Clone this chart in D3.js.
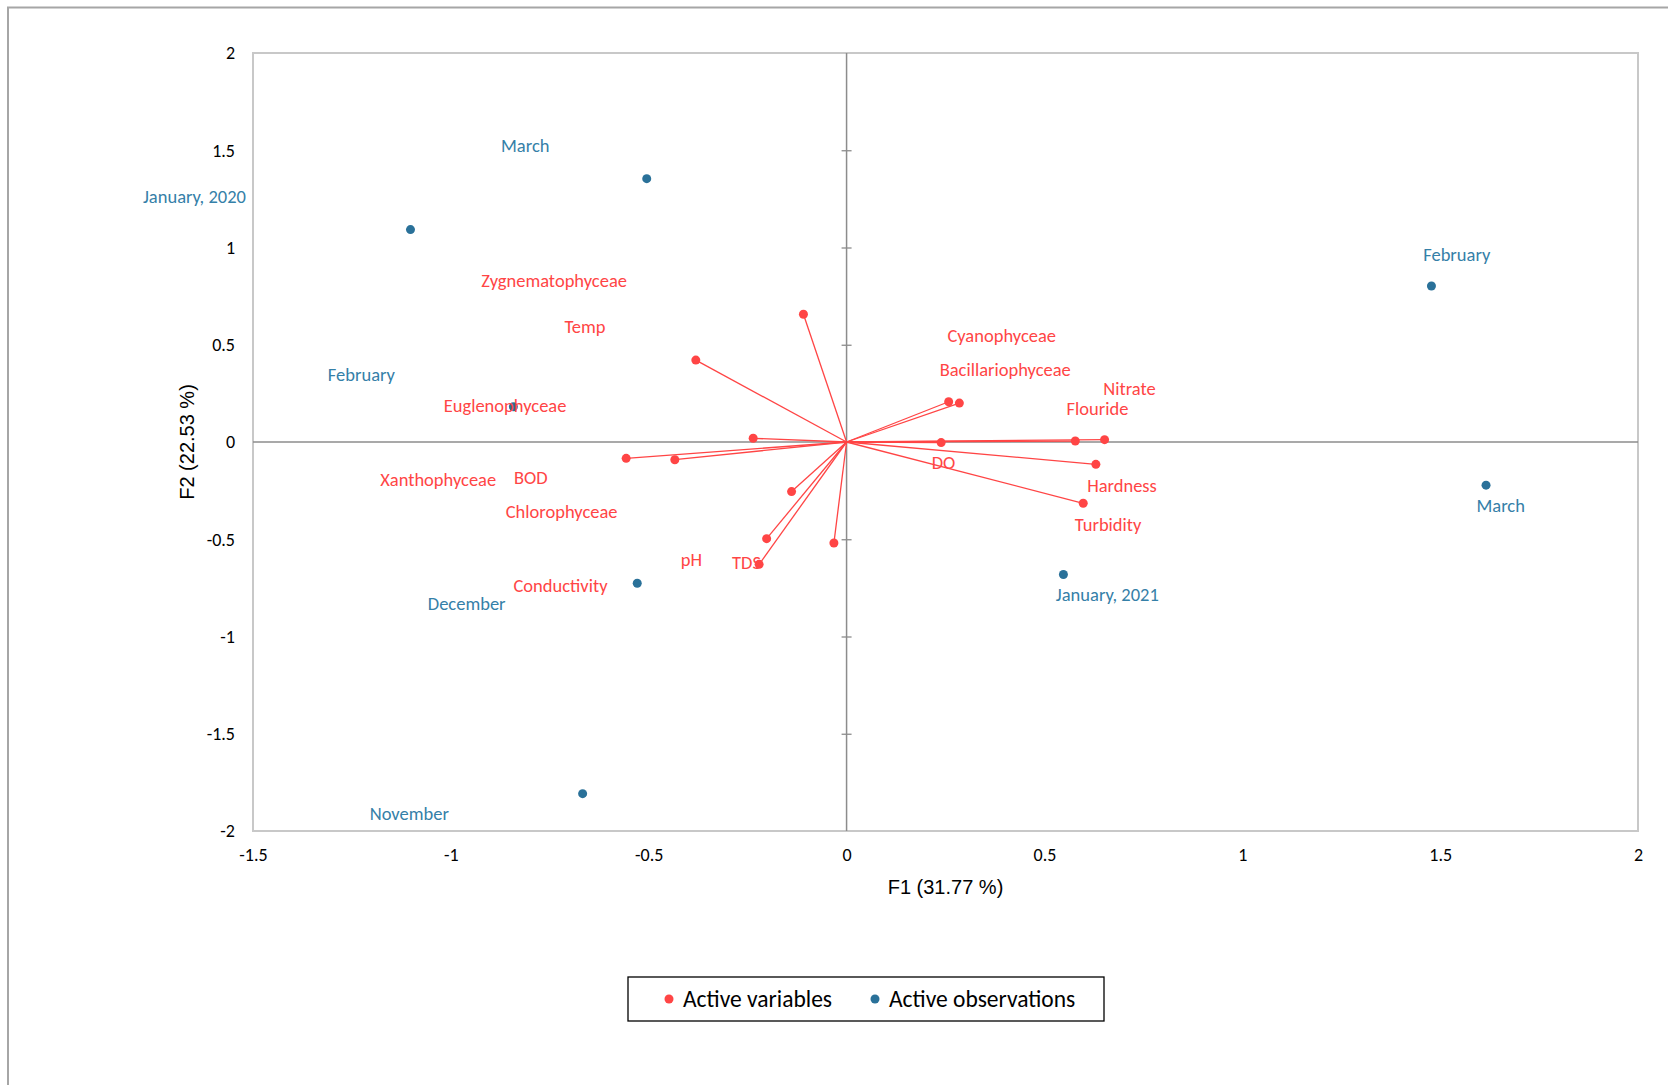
<!DOCTYPE html>
<html>
<head>
<meta charset="utf-8">
<script src="https://cdn.jsdelivr.net/npm/d3@7"></script>
<style>
  body { margin: 0; background: #fff; }
  svg { display: block; }
</style>
</head>
<body>
<div id="chart"></div>
<script>
// active variables (F1, F2 loadings)
var varNames = ["Zygnematophyceae", "Temp", "Euglenophyceae", "Xanthophyceae", "BOD",
  "Chlorophyceae", "pH", "TDS", "Conductivity", "Cyanophyceae", "Bacillariophyceae",
  "DO", "Flouride", "Nitrate", "Hardness", "Turbidity"];
var varF1 = [-0.109, -0.381, -0.236, -0.557, -0.434, -0.139, -0.202, -0.221, -0.032,
  0.258, 0.285, 0.239, 0.578, 0.652, 0.630, 0.598];
var varF2 = [0.657, 0.421, 0.019, -0.084, -0.091, -0.255, -0.497, -0.629, -0.519,
  0.207, 0.200, -0.003, 0.005, 0.012, -0.115, -0.315];
// where the variable labels sit (chart units)
var varLabelF1 = [-0.739, -0.661, -0.863, -1.032, -0.798, -0.720, -0.392, -0.253, -0.723,
  0.392, 0.401, 0.245, 0.634, 0.715, 0.696, 0.661];
var varLabelF2 = [0.829, 0.594, 0.189, -0.194, -0.183, -0.358, -0.605, -0.621, -0.736,
  0.550, 0.375, -0.107, 0.172, 0.276, -0.222, -0.424];

// active observations
var obsNames = ["January, 2020", "March", "February", "December", "November",
  "February", "March", "January, 2021"];
var obsF1 = [-1.102, -0.505, -0.842, -0.529, -0.667, 1.478, 1.616, 0.548];
var obsF2 = [1.092, 1.354, 0.181, -0.726, -1.808, 0.802, -0.222, -0.681];
var obsLabelF1 = [-1.648, -0.812, -1.226, -0.960, -1.105, 1.542, 1.653, 0.659];
var obsLabelF2 = [1.261, 1.524, 0.347, -0.829, -1.912, 0.965, -0.326, -0.785];

var xTicks = [-1.5, -1, -0.5, 0, 0.5, 1, 1.5, 2];
var yTicks = [-2, -1.5, -1, -0.5, 0, 0.5, 1, 1.5, 2];
var legendItems = ["Active variables", "Active observations"];

var red = "#ff4545", blue = "#2a7199", blueText = "#3580a8";
var font = "Carlito, Calibri, Lato, sans-serif";

var svgWidth = 1668, svgHeight = 1085;
var margin = { top: 53, right: 30, bottom: 254, left: 253 };
var width = svgWidth - margin.left - margin.right;
var height = svgHeight - margin.top - margin.bottom;

var svg = d3.select("#chart").append("svg")
  .attr("width", svgWidth)
  .attr("height", svgHeight);

// outer frame (only top and left visible)
svg.append("path")
  .attr("d", "M8,1085V7.5H1668")
  .attr("fill", "none")
  .attr("stroke", "#a6a6a6")
  .attr("stroke-width", 2);

var g = svg.append("g")
  .attr("transform", "translate(" + margin.left + "," + margin.top + ")");

var x = d3.scaleLinear().domain([-1.5, 2]).range([0, width]);
var y = d3.scaleLinear().domain([-2, 2]).range([height, 0]);

g.append("rect")
  .attr("width", width)
  .attr("height", height)
  .attr("fill", "none")
  .attr("stroke", "#c8c8c8")
  .attr("stroke-width", 2);

// tick labels on left and bottom (plain hyphen minus like the original)
var plain = function(d) { return String(d); };
var yAxis = g.append("g")
  .call(d3.axisLeft(y).tickValues(yTicks).tickSize(0).tickPadding(18).tickFormat(plain));
var xAxis = g.append("g")
  .attr("transform", "translate(0," + height + ")")
  .call(d3.axisBottom(x).tickValues(xTicks).tickSize(0).tickPadding(17).tickFormat(plain));
[xAxis, yAxis].forEach(function(a) {
  a.select(".domain").remove();
  a.selectAll("text").attr("font-family", font).attr("font-size", 18).attr("fill", "#000");
});

// centre axes; only the vertical one carries crossing ticks
function centreAxis(axis, transform) {
  var a = g.append("g").attr("transform", transform)
    .call(axis.tickSize(5).tickFormat(""));
  a.select(".domain").remove();
  a.selectAll("line").attr("stroke", "#8c8c8c").attr("stroke-width", 1.3);
}
centreAxis(d3.axisLeft(y).tickValues(yTicks.slice(1, -1)), "translate(" + x(0) + ",0)");
centreAxis(d3.axisRight(y).tickValues(yTicks.slice(1, -1)), "translate(" + x(0) + ",0)");
g.append("line")
  .attr("x1", 0).attr("x2", width).attr("y1", y(0)).attr("y2", y(0))
  .attr("stroke", "#8c8c8c").attr("stroke-width", 1.5);
g.append("line")
  .attr("x1", x(0)).attr("x2", x(0)).attr("y1", 0).attr("y2", height)
  .attr("stroke", "#8c8c8c").attr("stroke-width", 1.5);

// axis titles
g.append("text")
  .attr("x", width / 2)
  .attr("y", height + 56)
  .attr("text-anchor", "middle")
  .attr("dominant-baseline", "central")
  .attr("font-family", "Liberation Sans, Arial, sans-serif")
  .attr("font-size", 20)
  .text("F1 (31.77 %)");
g.append("text")
  .attr("transform", "translate(" + (-66) + "," + (height / 2) + ") rotate(-90)")
  .attr("text-anchor", "middle")
  .attr("dominant-baseline", "central")
  .attr("font-family", "Liberation Sans, Arial, sans-serif")
  .attr("font-size", 20)
  .text("F2 (22.53 %)");

var vars = varNames.map(function(n, i) {
  return { name: n, f1: varF1[i], f2: varF2[i], lx: varLabelF1[i], ly: varLabelF2[i] };
});
var obs = obsNames.map(function(n, i) {
  return { name: n, f1: obsF1[i], f2: obsF2[i], lx: obsLabelF1[i], ly: obsLabelF2[i] };
});

// observations
g.selectAll(".obs").data(obs).enter().append("circle")
  .attr("class", "obs")
  .attr("cx", function(d) { return x(d.f1); })
  .attr("cy", function(d) { return y(d.f2); })
  .attr("r", 4.5)
  .attr("fill", blue);
g.selectAll(".obsLabel").data(obs).enter().append("text")
  .attr("class", "obsLabel")
  .attr("x", function(d) { return x(d.lx); })
  .attr("y", function(d) { return y(d.ly); })
  .attr("text-anchor", "middle")
  .attr("dominant-baseline", "central")
  .attr("font-family", font)
  .attr("font-size", 18.5)
  .attr("fill", blueText)
  .text(function(d) { return d.name; });

// variable vectors
g.selectAll(".vec").data(vars).enter().append("line")
  .attr("class", "vec")
  .attr("x1", x(0)).attr("y1", y(0))
  .attr("x2", function(d) { return x(d.f1); })
  .attr("y2", function(d) { return y(d.f2); })
  .attr("stroke", red)
  .attr("stroke-width", 1.3);
g.selectAll(".var").data(vars).enter().append("circle")
  .attr("class", "var")
  .attr("cx", function(d) { return x(d.f1); })
  .attr("cy", function(d) { return y(d.f2); })
  .attr("r", 4.5)
  .attr("fill", red);
g.selectAll(".varLabel").data(vars).enter().append("text")
  .attr("class", "varLabel")
  .attr("x", function(d) { return x(d.lx); })
  .attr("y", function(d) { return y(d.ly); })
  .attr("text-anchor", "middle")
  .attr("dominant-baseline", "central")
  .attr("font-family", font)
  .attr("font-size", 18.5)
  .attr("fill", red)
  .text(function(d) { return d.name; });

// legend
var legend = svg.append("g").attr("transform", "translate(628,977)");
legend.append("rect")
  .attr("width", 476).attr("height", 44)
  .attr("fill", "#fff").attr("stroke", "#000").attr("stroke-width", 1.3);
var legendX = [41, 247];
var legendColors = [red, blue];
legendItems.forEach(function(t, i) {
  legend.append("circle")
    .attr("cx", legendX[i]).attr("cy", 22).attr("r", 4.5)
    .attr("fill", legendColors[i]);
  legend.append("text")
    .attr("x", legendX[i] + 14).attr("y", 22)
    .attr("dominant-baseline", "central")
    .attr("font-family", font)
    .attr("font-size", 23.5)
    .attr("fill", "#000")
    .text(t);
});
</script>
</body>
</html>
